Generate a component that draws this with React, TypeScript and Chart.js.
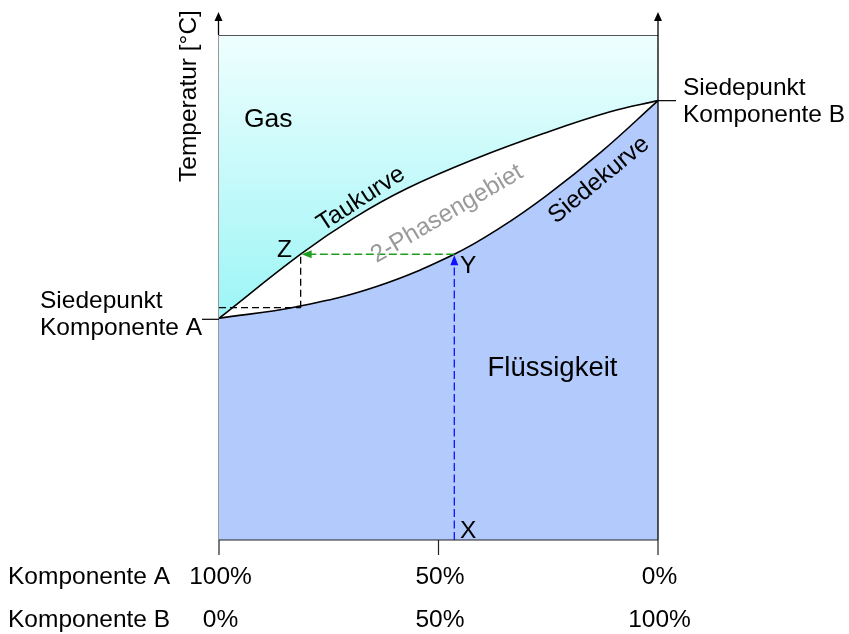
import React, { useEffect, useRef } from "react";
import { Chart, registerables } from "chart.js";

Chart.register(...registerables);

// x = share of Komponente B in %, y = relative temperature (no scale shown)
const dewX = [0, 18.6, 30.6, 42.8, 58.7, 73.9, 89.1, 100];
const dewY = [43.9, 56.6, 63.7, 69.6, 75.6, 80.5, 84.8, 87.0];
const bubbleX = [0, 17.7, 35.9, 53.6, 64.0, 74.6, 87.0, 100];
const bubbleY = [43.9, 46.2, 50.2, 56.6, 61.8, 68.2, 76.8, 87.0];
const tieLevel = 56.6;
const pointZx = 18.6;
const pointYx = 53.6;
const helperLevel = 46.0;
const tickValues = [0, 50, 100];
const tickLabelsA = ["100%", "50%", "0%"];
const tickLabelsB = ["0%", "50%", "100%"];

const FONT = "'Liberation Sans', Arial, Helvetica, sans-serif";
const FS = 24.5;

function zip(xs: number[], ys: number[]) {
  return xs.map((x, i) => ({ x, y: ys[i] }));
}

function arrowHead(
  c: CanvasRenderingContext2D,
  tx: number,
  ty: number,
  dx: number,
  dy: number,
  color: string,
  len = 9,
  half = 3.5
) {
  const l = Math.hypot(dx, dy);
  const ux = dx / l;
  const uy = dy / l;
  const bx = tx - ux * len;
  const by = ty - uy * len;
  c.save();
  c.fillStyle = color;
  c.beginPath();
  c.moveTo(tx, ty);
  c.lineTo(bx - uy * half, by + ux * half);
  c.lineTo(bx + uy * half, by - ux * half);
  c.closePath();
  c.fill();
  c.restore();
}

function text(
  c: CanvasRenderingContext2D,
  s: string,
  x: number,
  y: number,
  opts: { size?: number; color?: string; align?: CanvasTextAlign; baseline?: CanvasTextBaseline; rot?: number } = {}
) {
  c.save();
  c.font = `${opts.size ?? FS}px ${FONT}`;
  c.fillStyle = opts.color ?? "#000";
  c.textAlign = opts.align ?? "left";
  c.textBaseline = opts.baseline ?? "alphabetic";
  c.translate(x, y);
  if (opts.rot) c.rotate((opts.rot * Math.PI) / 180);
  c.fillText(s, 0, 0);
  c.restore();
}

const decorPlugin = {
  id: "decor",
  afterDatasetsDraw(chart: any) {
    const c: CanvasRenderingContext2D = chart.ctx;
    const xs = chart.scales.x;
    const ys = chart.scales.y;
    const { left, right, top, bottom } = chart.chartArea;
    const px = (v: number) => xs.getPixelForValue(v);
    const py = (v: number) => ys.getPixelForValue(v);

    c.save();
    // frame
    c.lineWidth = 1;
    c.strokeStyle = "#555";
    c.beginPath();
    c.moveTo(left, top + 0.5);
    c.lineTo(right, top + 0.5);
    c.stroke();
    c.strokeStyle = "#999";
    c.beginPath();
    c.moveTo(left - 0.5, bottom);
    c.lineTo(left - 0.5, top);
    c.stroke();
    c.strokeStyle = "#000";
    c.lineWidth = 1.3;
    c.beginPath();
    c.moveTo(left - 0.5, top);
    c.lineTo(left - 0.5, 18);
    c.stroke();
    c.beginPath();
    c.moveTo(right, bottom);
    c.lineTo(right, 18);
    c.stroke();
    arrowHead(c, left - 0.5, 12, 0, -1, "#000", 9, 4);
    arrowHead(c, right, 12, 0, -1, "#000", 9, 4);

    // bottom axis + ticks
    c.strokeStyle = "#222";
    c.lineWidth = 1.2;
    c.beginPath();
    c.moveTo(left, bottom);
    c.lineTo(right, bottom);
    c.stroke();
    tickValues.forEach((v) => {
      c.beginPath();
      c.moveTo(px(v), bottom);
      c.lineTo(px(v), bottom + 15);
      c.stroke();
    });

    // leader lines for boiling points
    c.strokeStyle = "#000";
    c.lineWidth = 1.2;
    c.beginPath();
    c.moveTo(left - 17, py(dewY[0]) + 1);
    c.lineTo(left, py(dewY[0]) + 1);
    c.stroke();
    c.beginPath();
    c.moveTo(right, py(dewY[dewY.length - 1]));
    c.lineTo(right + 18, py(dewY[dewY.length - 1]));
    c.stroke();
    c.restore();

    // arrow heads of the dashed construction lines
    arrowHead(c, px(pointZx) + 1, py(tieLevel), -1, 0, "#1e9e1e", 10, 4);
    arrowHead(c, px(pointYx), py(tieLevel) + 1, 0, -1, "#1010ff", 10, 4);

    // texts
    text(c, "Temperatur [°C]", 196, 96, { rot: -90, align: "center" });
    text(c, "Gas", 244, 127, { size: 26.5 });
    text(c, "Flüssigkeit", 552.5, 376, { size: 27.5, align: "center" });
    text(c, "Taukurve", 361, 199, { rot: -33, align: "center", baseline: "middle" });
    text(c, "Siedekurve", 599, 180, { rot: -39.5, align: "center", baseline: "middle" });
    text(c, "2-Phasengebiet", 447, 214, { rot: -30.5, align: "center", baseline: "middle", color: "#9a9a9a" });
    text(c, "Z", 292, 257, { align: "right" });
    text(c, "Y", 460, 273);
    text(c, "X", 460, 538);
    text(c, "Siedepunkt", 40, 308);
    text(c, "Komponente A", 40, 335);
    text(c, "Siedepunkt", 683, 95);
    text(c, "Komponente B", 683, 122);
    text(c, "Komponente A", 8, 584);
    text(c, "Komponente B", 8, 627);
    tickValues.forEach((v, i) => {
      text(c, tickLabelsA[i], px(v) + 1.5, 584, { align: "center" });
      text(c, tickLabelsB[i], px(v) + 1.5, 627, { align: "center" });
    });
  },
};

export default function App() {
  const ref = useRef<HTMLCanvasElement | null>(null);

  useEffect(() => {
    if (!ref.current) return;
    const chart = new Chart(ref.current, {
      type: "line",
      data: {
        datasets: [
          {
            label: "tie",
            data: [
              { x: pointYx, y: tieLevel },
              { x: pointZx + 1.5, y: tieLevel },
            ],
            borderColor: "#1e9e1e",
            borderWidth: 1.5,
            borderDash: [8, 3.5],
            pointRadius: 0,
            fill: false,
          },
          {
            label: "vertical X-Y",
            data: [
              { x: pointYx, y: 0 },
              { x: pointYx, y: tieLevel - 1.5 },
            ],
            borderColor: "#1010ff",
            borderWidth: 1.3,
            borderDash: [8, 3.5],
            pointRadius: 0,
            fill: false,
          },
          {
            label: "helper h",
            data: [
              { x: 0, y: helperLevel },
              { x: pointZx, y: helperLevel },
            ],
            borderColor: "#000",
            borderWidth: 1.3,
            borderDash: [7, 4],
            pointRadius: 0,
            fill: false,
          },
          {
            label: "helper v",
            data: [
              { x: pointZx, y: helperLevel },
              { x: pointZx, y: tieLevel },
            ],
            borderColor: "#000",
            borderWidth: 1.3,
            borderDash: [7, 4],
            pointRadius: 0,
            fill: false,
          },
          {
            label: "Taukurve",
            data: zip(dewX, dewY),
            borderColor: "#000",
            borderWidth: 1.6,
            tension: 0.4,
            pointRadius: 0,
            fill: "end",
            backgroundColor: (ctx: any) => {
              const ch = ctx.chart;
              const area = ch.chartArea;
              if (!area) return "#c8fbfb";
              const yEnd = ch.scales.y.getPixelForValue(dewY[0]);
              const g = ch.ctx.createLinearGradient(0, area.top, 0, yEnd);
              g.addColorStop(0, "#effefe");
              g.addColorStop(1, "#9cf5f6");
              return g;
            },
          },
          {
            label: "Siedekurve",
            data: zip(bubbleX, bubbleY),
            borderColor: "#000",
            borderWidth: 1.6,
            tension: 0.4,
            pointRadius: 0,
            fill: "start",
            backgroundColor: "#b3cafc",
          },
        ],
      },
      options: {
        animation: false,
        responsive: false,
        events: [],
        layout: { padding: { left: 219, right: 191, top: 35, bottom: 94 } },
        scales: {
          x: { type: "linear", min: 0, max: 100, display: false },
          y: { type: "linear", min: 0, max: 100, display: false },
        },
        plugins: {
          legend: { display: false },
          tooltip: { enabled: false },
        },
      },
      plugins: [decorPlugin],
    } as any);
    return () => chart.destroy();
  }, []);

  return (
    <div style={{ position: "fixed", left: 0, top: 0, width: 849, height: 634, background: "#fff" }}>
      <canvas ref={ref} width={849} height={634} style={{ display: "block", width: 849, height: 634 }} />
    </div>
  );
}
